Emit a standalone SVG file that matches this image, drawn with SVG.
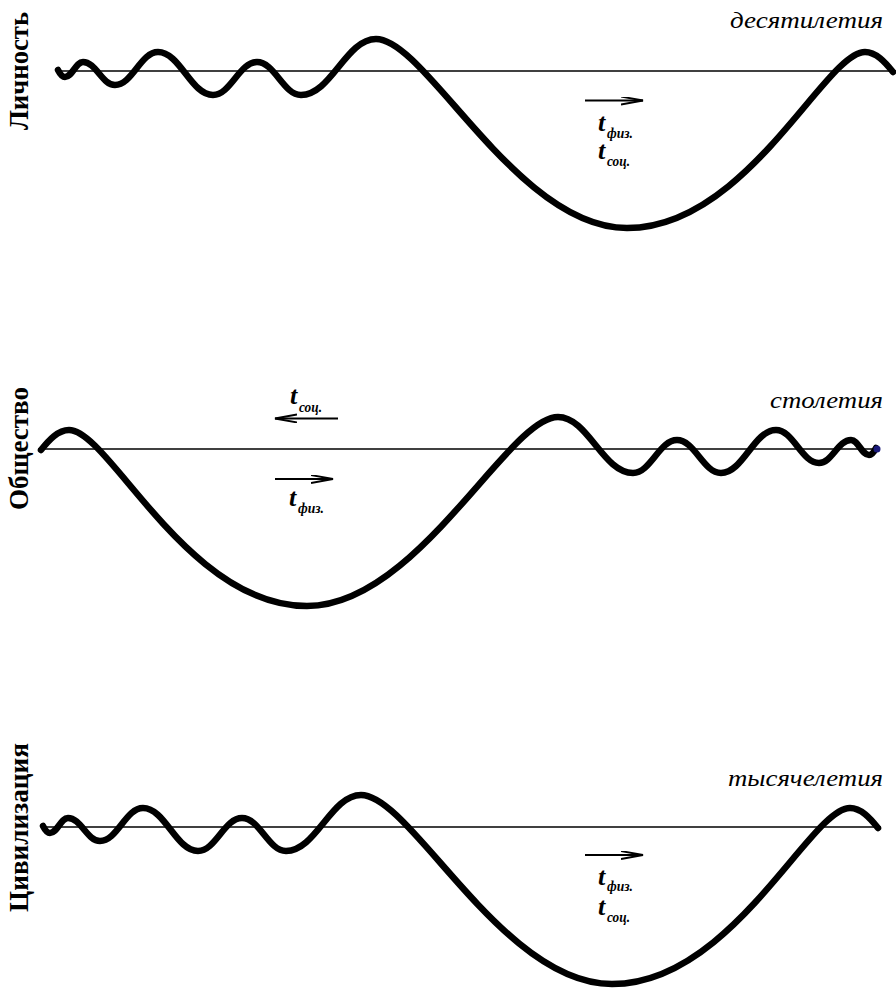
<svg xmlns="http://www.w3.org/2000/svg" xmlns:xlink="http://www.w3.org/1999/xlink" width="896" height="994" viewBox="0 0 896 994">
<style>
.wave{fill:none;stroke:#000;stroke-width:6.5;stroke-linecap:round;stroke-linejoin:round}
.axis{stroke:#000;stroke-width:1.3}
.arr{stroke:#000;stroke-width:2;marker-end:url(#head)}
.lbl{font-family:"Liberation Serif","DejaVu Serif",serif;font-weight:bold;font-size:28px;fill:#000}
.era{font-family:"Liberation Serif","DejaVu Serif",serif;font-style:italic;font-size:24px;fill:#000}
.t{font-family:"Liberation Serif","DejaVu Serif",serif;font-style:italic;font-weight:bold;font-size:26px;fill:#000}
.s{font-family:"Liberation Serif","DejaVu Serif",serif;font-style:italic;font-weight:bold;font-size:14px;fill:#000}
</style>
<defs>
<marker id="head" markerUnits="userSpaceOnUse" markerWidth="24" markerHeight="10" refX="22" refY="4" orient="auto">
<path d="M0,0 L22,4 L0,8" fill="none" stroke="#000" stroke-width="1.8"/>
</marker>
<path id="wave" d="M58,70 C60,74 62,77 65,77 C72.2,77 75.8,62 83,62 C95.8,62 102.2,85 115,85 C132.2,85 140.8,52 158,52 C180,52 191,95 213,95 C230.6,95 239.4,62 257,62 C274.6,62 283.4,95 301,95 C331,95 346,39 376,39 C426,39 517,228 627,228 C747,228 825,52 865,52 C876,52 885,62 893,72"/>
</defs>
<rect width="896" height="994" fill="#fff"/>

<g id="panel-lichnost">
<text class="lbl" transform="translate(28,130) rotate(-90)" textLength="118" lengthAdjust="spacingAndGlyphs">Личность</text>
<line class="axis" x1="58" y1="71" x2="896" y2="71"/>
<use xlink:href="#wave" class="wave"/>
<text class="era" x="730" y="28" textLength="153" lengthAdjust="spacingAndGlyphs">десятилетия</text>
<text class="t" x="598" y="131">t</text><text class="s" x="607" y="138" textLength="26" lengthAdjust="spacingAndGlyphs">физ.</text>
<text class="t" x="598" y="159">t</text><text class="s" x="607" y="166" textLength="23" lengthAdjust="spacingAndGlyphs">соц.</text>
</g>

<g id="panel-obshchestvo">
<text class="lbl" transform="translate(28,510) rotate(-90)" textLength="123" lengthAdjust="spacingAndGlyphs">Общество</text>
<line class="axis" x1="38" y1="449" x2="876" y2="449"/>
<use xlink:href="#wave" class="wave" transform="translate(934,378) scale(-1,1)"/>
<circle cx="877" cy="449" r="3.5" fill="#1a1a7a"/>
<text class="era" x="770" y="408" textLength="113" lengthAdjust="spacingAndGlyphs">столетия</text>
<text class="t" x="290" y="404">t</text><text class="s" x="299" y="412" textLength="23" lengthAdjust="spacingAndGlyphs">соц.</text>
<text class="t" x="289" y="506">t</text><text class="s" x="298" y="513" textLength="26" lengthAdjust="spacingAndGlyphs">физ.</text>
</g>

<g id="panel-civilizaciya">
<text class="lbl" transform="translate(28,912) rotate(-90)" textLength="169" lengthAdjust="spacingAndGlyphs">Цивилизация</text>
<line class="axis" x1="43" y1="827" x2="881" y2="827"/>
<use xlink:href="#wave" class="wave" transform="translate(-15,756)"/>
<text class="era" x="728" y="786" textLength="155" lengthAdjust="spacingAndGlyphs">тысячелетия</text>
<text class="t" x="598" y="885">t</text><text class="s" x="607" y="891" textLength="26" lengthAdjust="spacingAndGlyphs">физ.</text>
<text class="t" x="598" y="915">t</text><text class="s" x="607" y="922" textLength="23" lengthAdjust="spacingAndGlyphs">соц.</text>
</g>

<g id="connectors">
<line class="arr" x1="585" y1="100.5" x2="643" y2="100.5"/>
<line class="arr" x1="338" y1="418.5" x2="275" y2="418.5"/>
<line class="arr" x1="275" y1="479" x2="333" y2="479"/>
<line class="arr" x1="585" y1="855" x2="643" y2="855"/>
</g>
</svg>
